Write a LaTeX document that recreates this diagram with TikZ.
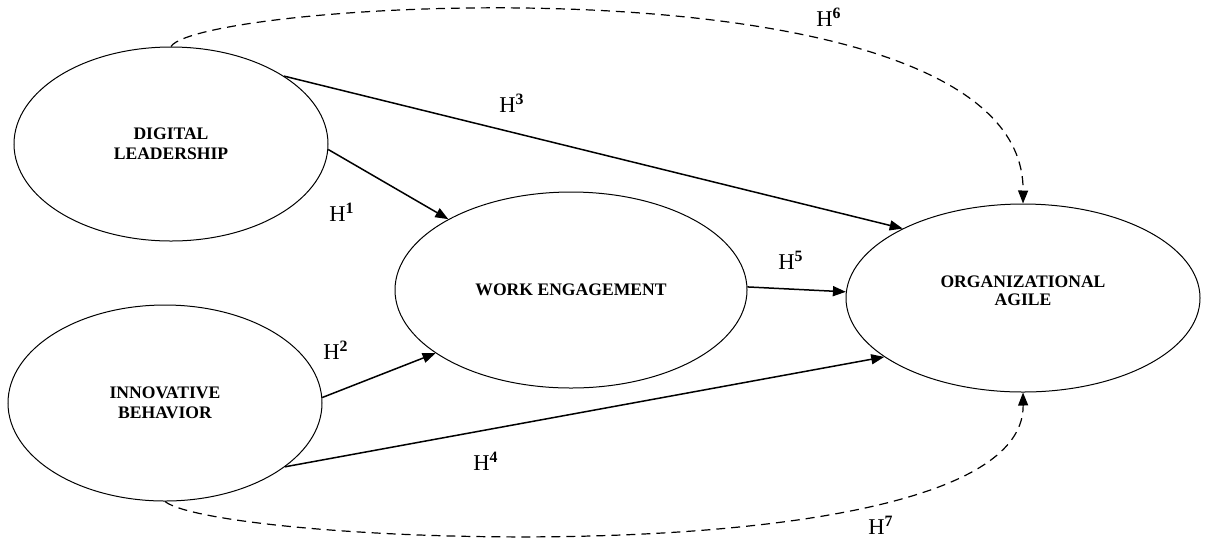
\documentclass[tikz,border=0pt]{standalone}
\usepackage{fontspec}
\setmainfont{Liberation Serif}
\usetikzlibrary{arrows.meta,shapes.geometric}
\tikzset{
  construct/.style={draw, ellipse, line width=0.5pt, inner sep=0pt, align=center,
    font=\fontsize{8.8}{10}\selectfont\bfseries},
  path/.style={-{Triangle[length=6.5pt,width=5pt]}, line width=0.75pt},
  mediated/.style={-{Triangle[length=6.5pt,width=5pt]}, line width=0.6pt, dash pattern=on 4.5pt off 3pt},
  hyp/.style={font=\fontsize{11.3}{13}\selectfont}
}
\newcommand{\hyplabel}[1]{H\textsuperscript{\textbf{#1}}}
\begin{document}
\begin{tikzpicture}[x=0.5pt, y=-0.5pt]
        \useasboundingbox (0,0) rectangle (1208,537);
        % Constructs
        \node (DL) [construct, minimum width=157pt, minimum height=97pt] at (171,144) {DIGITAL\\LEADERSHIP};
        \node (IB) [construct, minimum width=157pt, minimum height=98pt] at (165,403) {INNOVATIVE\\BEHAVIOR};
        \node (WE) [construct, minimum width=176pt, minimum height=98pt] at (571,290) {WORK ENGAGEMENT};
        \node (OA) [construct, minimum width=177pt, minimum height=94pt] at (1023,298) {\raisebox{7pt}{\shortstack{ORGANIZATIONAL\\AGILE}}};

        % Direct paths
        \draw[path] (DL.-2) -- (WE.150.6);
        \draw[path] (DL.31.9) -- (OA.150);
        \draw[path] (WE.1) -- (OA.178);
        \draw[path] (IB.2) -- (WE.205.7);
        \draw[path] (IB.-28.3) -- (OA.203.7);

        % Mediated paths
        \draw[mediated] (DL.north) .. controls (200,0) and (1025,-50) .. (OA.north);
        \draw[mediated] (IB.south) .. controls (220,545) and (1025,580) .. (OA.south);

        % Hypotheses
        \node (h1) [hyp] at (342,212) {\hyplabel{1}};
        \node (h2) [hyp] at (336,350) {\hyplabel{2}};
        \node (h3) [hyp] at (512,103) {\hyplabel{3}};
        \node (h4) [hyp] at (486,461) {\hyplabel{4}};
        \node (h5) [hyp] at (791,260) {\hyplabel{5}};
        \node (h6) [hyp] at (829,17) {\hyplabel{6}};
        \node (h7) [hyp] at (881,525) {\hyplabel{7}};
\end{tikzpicture}
\end{document}
